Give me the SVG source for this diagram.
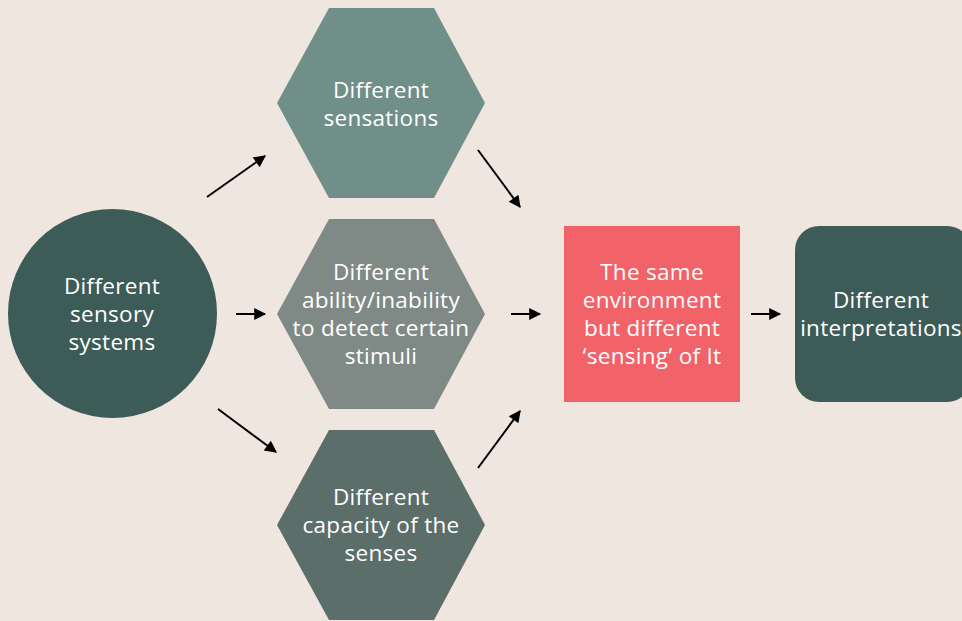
<svg xmlns="http://www.w3.org/2000/svg" width="962" height="621" viewBox="0 0 962 621">
  <defs>
    <style>
      .lbl { font-family: "Open Sans", "Noto Sans", "Liberation Sans", sans-serif; font-size: 22.5px; letter-spacing: 0.3px; fill: #FFFFFF; text-anchor: middle; }
      .conn { stroke: #000000; stroke-width: 2; fill: none; marker-end: url(#head); }
    </style>
    <marker id="head" viewBox="0 0 10 10" refX="9" refY="5" markerWidth="7" markerHeight="6" orient="auto" markerUnits="strokeWidth">
      <path d="M0,0 L10,5 L0,10 z" fill="#000000"/>
    </marker>
  </defs>

  <rect x="0" y="0" width="962" height="621" fill="#EFE6E0"/>

  <g id="sensory-systems">
    <circle cx="112.5" cy="313.5" r="104.5" fill="#3D5C57"/>
    <text class="lbl" x="112" y="294">Different</text>
    <text class="lbl" x="112" y="322">sensory</text>
    <text class="lbl" x="112" y="350">systems</text>
  </g>

  <g id="sensations">
    <polygon points="277,103 329,8 434,8 485,103 434,198 329,198" fill="#6F8F88"/>
    <text class="lbl" x="381" y="98">Different</text>
    <text class="lbl" x="381" y="126">sensations</text>
  </g>

  <g id="ability">
    <polygon points="277,314 329,219 434,219 485,314 434,409 329,409" fill="#7F8A86"/>
    <text class="lbl" x="381" y="280">Different</text>
    <text class="lbl" x="381" y="308">ability/inability</text>
    <text class="lbl" x="381" y="336">to detect certain</text>
    <text class="lbl" x="381" y="364">stimuli</text>
  </g>

  <g id="capacity">
    <polygon points="277,525 329,430 434,430 485,525 434,620 329,620" fill="#5C6E6A"/>
    <text class="lbl" x="381" y="505">Different</text>
    <text class="lbl" x="381" y="533">capacity of the</text>
    <text class="lbl" x="381" y="561">senses</text>
  </g>

  <g id="same-environment">
    <rect x="564" y="226" width="176" height="176" fill="#F16269"/>
    <text class="lbl" x="652" y="280">The same</text>
    <text class="lbl" x="652" y="308">environment</text>
    <text class="lbl" x="652" y="336">but different</text>
    <text class="lbl" x="652" y="364">‘sensing’ of It</text>
  </g>

  <g id="interpretations">
    <rect x="795" y="226" width="176" height="176" rx="24" ry="24" fill="#3D5C57"/>
    <text class="lbl" x="881" y="308">Different</text>
    <text class="lbl" x="881" y="336">interpretations</text>
  </g>

  <g id="connectors">
    <line class="conn" x1="207" y1="197" x2="265" y2="156"/>
    <line class="conn" x1="236" y1="314" x2="265" y2="314"/>
    <line class="conn" x1="218" y1="409" x2="276" y2="452"/>
    <line class="conn" x1="478" y1="150" x2="520" y2="207"/>
    <line class="conn" x1="511" y1="314" x2="540" y2="314"/>
    <line class="conn" x1="478" y1="468" x2="520" y2="411"/>
    <line class="conn" x1="751" y1="314" x2="780" y2="314"/>
  </g>
</svg>
